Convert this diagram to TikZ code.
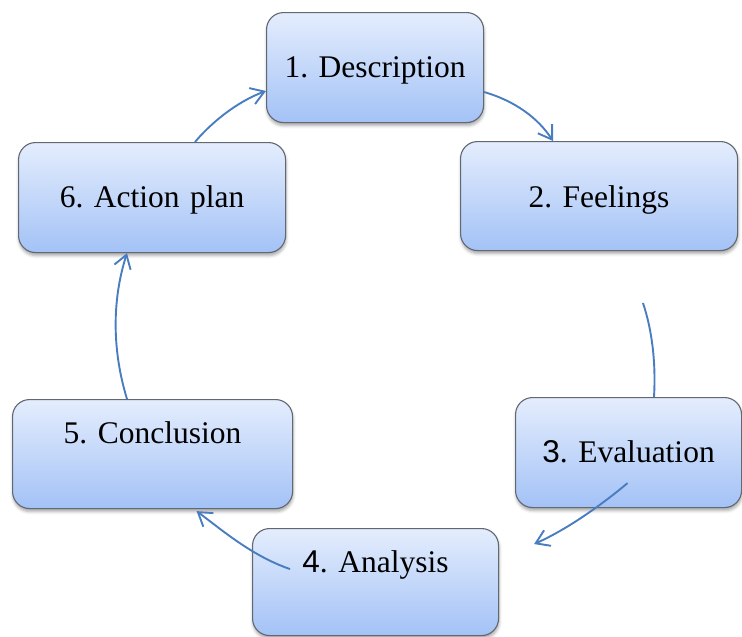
\documentclass[tikz,border=0pt]{standalone}
\usepackage{fontspec}
\setmainfont{Liberation Serif}
\newfontfamily\numfont{Liberation Sans}
\usetikzlibrary{arrows.meta,shadows.blur,calc}

\definecolor{boxtop}{RGB}{228,237,253}
\definecolor{boxbot}{RGB}{163,194,246}
\definecolor{boxedge}{RGB}{98,104,114}
\definecolor{flow}{RGB}{72,125,192}

\tikzset{
  stage/.style={draw=boxedge, line width=1.1pt, rounded corners=17pt,
    top color=boxtop, bottom color=boxbot,
    inner sep=0pt, align=center, anchor=north west,
    font=\fontsize{31.5}{36}\selectfont\frenchspacing,
    blur shadow={shadow xshift=0.5pt, shadow yshift=-3pt,
      shadow blur radius=3pt, shadow opacity=35}},
  flowline/.style={draw=flow, line width=1.9pt},
  flowarrow/.style={flowline, -{Straight Barb[length=13pt,width=17pt]}}
}

\begin{document}
\frenchspacing
\begin{tikzpicture}[x=1pt, y=-1pt]
  \useasboundingbox (0,0) rectangle (742,637);

  % the six stages of the cycle
  \node[stage, text width=217pt, text height=65pt, text depth=45pt] (d1) at (266,12) {1. Description};
  \node[stage, text width=277pt, text height=66pt, text depth=43pt] (d2) at (460,141) {2. Feelings};
  \node[stage, text width=226pt, text height=65pt, text depth=45pt] (d3) at (515,397) {{\numfont 3}. Evaluation};
  \node[stage, text width=246pt, text height=44pt, text depth=63pt] (d4) at (252,528) {{\numfont 4}. Analysis};
  \node[stage, text width=280pt, text height=44pt, text depth=65pt] (d5) at (12,399) {5. Conclusion};
  \node[stage, text width=267pt, text height=65pt, text depth=45pt] (d6) at (18,142) {6. Action plan};

  % loose start of the line into stage 3
  \coordinate (c23) at (643,303);

  % connectors between the stages
  \draw[flowarrow] (d1.east |- 0,92) .. controls (515,101) and (538,118) .. (d2.north -| 553,0);
  \draw[flowline] (c23) .. controls (652,330) and (656,362) .. (d3.north -| 654,0);
  \draw[flowarrow] ($(d3.south)+(-1,-25)$) .. controls (605,502) and (570,528) .. ($(d4.east)+(35,-38)$);
  \draw[flowarrow] ($(d4.west)+(38,-13)$) .. controls (252,556) and (222,530) .. ($(d5.south)+(44,2)$);
  \draw[flowarrow] (d5.north -| 127,0) .. controls (112,350) and (112,300) .. (d6.south -| 127,0);
  \draw[flowarrow] (d6.north -| 195,0) .. controls (210,124) and (236,102) .. (d1.west |- 0,91);
\end{tikzpicture}
\end{document}
